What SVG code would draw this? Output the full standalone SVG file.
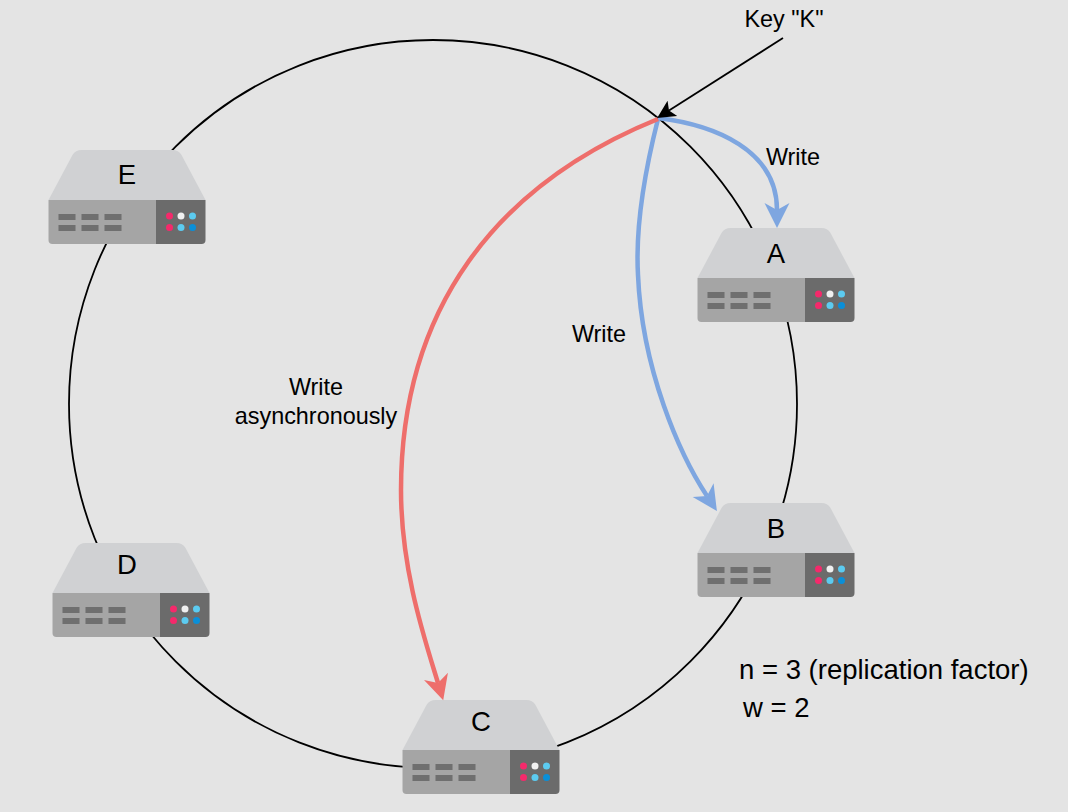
<svg xmlns="http://www.w3.org/2000/svg" xmlns:xlink="http://www.w3.org/1999/xlink" width="1068" height="812" viewBox="0 0 1068 812">
<style>
text{font-family:"Liberation Sans",Arial,sans-serif;fill:#000;font-size:23.400px}
.c{text-anchor:middle}
.n{font-size:27.500px;text-anchor:middle}
.big{font-size:27.500px}
.top{fill:#d0d1d3}
.front{fill:#a5a5a5}
.panel{fill:#6b6b6b}
.bar{fill:#6f6f6f}
.blue{fill:none;stroke:#7ea6e0;stroke-width:4.500}
.red{fill:none;stroke:#ee6e6b;stroke-width:4.500}
</style>
<defs>
<marker id="ab" markerUnits="userSpaceOnUse" markerWidth="28" markerHeight="28" refX="7" refY="13" orient="auto" viewBox="0 0 28 26"><path d="M0 0.500L25 13L0 25.500L7 13Z" fill="#7ea6e0"/></marker>
<marker id="ar" markerUnits="userSpaceOnUse" markerWidth="28" markerHeight="28" refX="7" refY="13" orient="auto" viewBox="0 0 28 26"><path d="M0 0.500L25 13L0 25.500L7 13Z" fill="#ee6e6b"/></marker>
<marker id="ak" markerUnits="userSpaceOnUse" markerWidth="20" markerHeight="20" refX="4" refY="9" orient="auto" viewBox="0 0 20 18"><path d="M0 0L18 9L0 18L4 9Z" fill="#000"/></marker>
<g id="server">
<path class="top" d="M0 50L24 5Q27 0 33 0H124Q130 0 133 5L157 50Z"/>
<path class="front" d="M0 50H108V94H4Q0 94 0 90Z"/>
<path class="panel" d="M107.500 50H157V90Q157 94 153 94H107.500Z"/>
<g class="bar"><rect x="10" y="64" width="17" height="6"/><rect x="33" y="64" width="17" height="6"/><rect x="56" y="64" width="17" height="6"/><rect x="10" y="75" width="17" height="6"/><rect x="33" y="75" width="17" height="6"/><rect x="56" y="75" width="17" height="6"/></g>
<circle cx="121" cy="66" r="3.500" fill="#f5296b"/><circle cx="132.500" cy="66" r="3.500" fill="#f0f0f0"/><circle cx="144" cy="66" r="3.500" fill="#5ccbf0"/>
<circle cx="121" cy="77.500" r="3.500" fill="#f5296b"/><circle cx="132.500" cy="77.500" r="3.500" fill="#5ccbf0"/><circle cx="144" cy="77.500" r="3.500" fill="#0a8fd8"/>
</g>
</defs>
<rect width="1068" height="812" fill="#e4e4e4"/>
<g id="ring"><circle cx="433" cy="404" r="364" fill="none" stroke="#000" stroke-width="1.800"/></g>
<g id="node-E"><use xlink:href="#server" href="#server" x="48.500" y="150"/><text class="n" x="127" y="184">E</text></g>
<g id="node-A"><use xlink:href="#server" href="#server" x="697.500" y="228"/><text class="n" x="776" y="263">A</text></g>
<g id="node-B"><use xlink:href="#server" href="#server" x="697.500" y="503"/><text class="n" x="776" y="538">B</text></g>
<g id="node-D"><use xlink:href="#server" href="#server" x="52.500" y="543"/><text class="n" x="127" y="574">D</text></g>
<g id="node-C"><use xlink:href="#server" href="#server" x="402.500" y="700"/><text class="n" x="481" y="731">C</text></g>
<g id="connectors">
<path class="blue" d="M658 118C715 125 777 150 777 210" marker-end="url(#ab)"/>
<path class="blue" d="M658 119C640 190 636 240 638 275C642 370 680 455 707 496" marker-end="url(#ab)"/>
<path class="red" d="M658 119C495 185 401 310 401 490C401 570 425 640 438 683" marker-end="url(#ar)"/>
<path d="M783 38L669 110.500" fill="none" stroke="#000" stroke-width="1.800" marker-end="url(#ak)"/>
</g>
<g id="labels">
<text class="c" x="784" y="27">Key "K"</text>
<text class="c" x="793" y="165">Write</text>
<text class="c" x="599" y="342">Write</text>
<text class="c" x="316" y="395">Write</text>
<text class="c" x="316" y="424">asynchronously</text>
<text class="big" x="739" y="679">n = 3 (replication factor)</text>
<text class="big" x="743" y="717">w = 2</text>
</g>
</svg>
